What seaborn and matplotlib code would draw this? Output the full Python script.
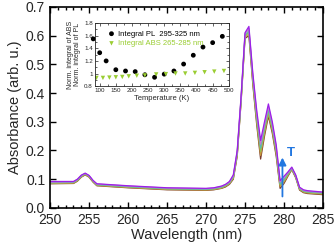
import pandas as pd
import matplotlib
matplotlib.use("Agg")
import matplotlib.pyplot as plt
from matplotlib.ticker import MultipleLocator
import seaborn as sns

# wavelength grid (nm)
wl = [250, 253, 253.5, 254, 254.5, 255, 255.5, 256, 260, 265, 270, 271, 272, 272.5,
      273, 273.5, 274, 274.5, 275, 275.5, 276, 276.5, 277, 277.5, 278, 278.5, 279,
      279.5, 280, 280.5, 281, 281.5, 282, 282.5, 283, 285]

# absorbance spectra, low T -> high T
abs_c1 = [.084, .085, .093, .107, .115, .107, .090, .077, .070, .063, .061, .063, .068, .073,
          .082, .100, .180, .370, .590, .600, .430, .290, .170, .250, .320, .260, .180,
          .068, .085, .110, .133, .105, .062, .053, .050, .046]
abs_c2 = [.085, .086, .094, .108, .116, .108, .091, .078, .071, .064, .062, .064, .069, .075,
          .084, .103, .184, .374, .594, .606, .438, .300, .183, .260, .328, .268, .188,
          .074, .090, .113, .135, .107, .064, .055, .052, .048]
abs_c3 = [.087, .088, .096, .110, .118, .110, .093, .080, .073, .066, .064, .066, .071, .077,
          .086, .106, .188, .378, .598, .612, .446, .310, .196, .270, .336, .276, .196,
          .080, .095, .116, .136, .109, .066, .057, .054, .050]
abs_c4 = [.088, .089, .097, .111, .119, .111, .094, .081, .074, .067, .065, .067, .073, .079,
          .088, .109, .192, .382, .602, .618, .454, .320, .209, .280, .344, .284, .204,
          .085, .100, .119, .138, .111, .068, .059, .056, .052]
abs_c5 = [.090, .091, .099, .113, .120, .112, .095, .083, .076, .069, .067, .069, .075, .081,
          .090, .112, .196, .386, .606, .625, .462, .330, .222, .290, .353, .292, .212,
          .090, .105, .122, .140, .113, .070, .061, .058, .054]
abs_c6 = [.092, .092, .100, .114, .121, .113, .096, .084, .077, .070, .068, .070, .076, .082,
          .092, .115, .200, .390, .610, .632, .470, .340, .235, .300, .362, .300, .220,
          .095, .110, .125, .142, .115, .072, .063, .060, .055]
curve_colors = ["#7a3b2e", "#c89a3c", "#8fbf5a", "#5ab8b0", "#c87ad0", "#9b1fe8"]

# inset data
T_pl = [80, 100, 120, 150, 180, 210, 240, 270, 300, 330, 360, 390, 420, 450, 480]
pl = [1.55, 1.33, 1.20, 1.06, 1.04, 1.03, 0.98, 0.94, 0.99, 1.04, 1.15, 1.29, 1.42, 1.49, 1.59]
T_abs = [90, 110, 130, 150, 170, 190, 215, 240, 275, 305, 335, 365, 395, 425, 455, 485]
absint = [0.93, 0.93, 0.935, 0.94, 0.945, 0.955, 0.965, 0.97, 0.985, 0.99, 1.0, 1.0,
          1.01, 1.02, 1.03, 1.04]

rows = []
for i, c in enumerate([abs_c1, abs_c2, abs_c3, abs_c4, abs_c5, abs_c6]):
    for w, a in zip(wl, c):
        rows.append({"wl": w, "A": a, "curve": i})
df = pd.DataFrame(rows)

sns.set_style("ticks")
plt.rcParams["font.family"] = ["Liberation Sans", "DejaVu Sans"]

fig = plt.figure(figsize=(3.34, 2.46), dpi=100)
ax = fig.add_axes([0.150, 0.155, 0.817, 0.817])
sns.lineplot(data=df, x="wl", y="A", hue="curve", palette=curve_colors,
             linewidth=0.9, legend=False, ax=ax)
ax.set_xlim(250, 285)
ax.set_ylim(0, 0.7)
ax.xaxis.set_major_locator(MultipleLocator(5))
ax.xaxis.set_minor_locator(MultipleLocator(1))
ax.tick_params(which="both", direction="in", top=True, right=True, labelsize=10,
               width=1, color="black")
ax.tick_params(which="major", length=4)
ax.tick_params(which="minor", length=2, left=False, right=False)
ax.set_yticks([0.0, 0.1, 0.2, 0.3, 0.4, 0.5, 0.6, 0.7])
ax.set_yticklabels(["0.0", "0.1", "0.2", "0.3", "0.4", "0.5", "0.6", "0.7"])
ax.set_xlabel("Wavelength (nm)", fontsize=10.5, labelpad=1)
ax.set_ylabel("Absorbance (arb. u.)", fontsize=10.5, labelpad=3)
for s in ax.spines.values():
    s.set_linewidth(1.2)
    s.set_color("black")

# temperature arrow
ax.annotate("", xy=(279.8, 0.185), xytext=(279.8, 0.03),
            arrowprops=dict(arrowstyle="-|>", color="#2277e0", lw=1.3, mutation_scale=11))
ax.text(280.9, 0.19, "T", color="#2277e0", fontsize=9.5, fontweight="bold",
        ha="center", va="center")

# inset
ins = fig.add_axes([0.284, 0.650, 0.401, 0.256])
sns.scatterplot(x=T_pl, y=pl, ax=ins, color="black", marker="o", s=12,
                edgecolor="none", label="Integral PL  295-325 nm", clip_on=False)
sns.scatterplot(x=T_abs, y=absint, ax=ins, color="#9acd32", marker="v", s=10,
                edgecolor="none", label="Integral ABS 265-285 nm")
ins.set_xlim(85, 500)
ins.set_ylim(0.8, 1.8)
ins.set_xticks([100, 150, 200, 250, 300, 350, 400, 450, 500])
ins.xaxis.set_minor_locator(MultipleLocator(25))
ins.set_yticks([0.8, 1.0, 1.2, 1.4, 1.6, 1.8])
ins.set_yticklabels(["0.8", "1", "1.2", "1.4", "1.6", "1.8"])
ins.yaxis.set_minor_locator(MultipleLocator(0.1))
ins.tick_params(which="both", direction="in", top=True, right=True, labelsize=4.5,
                width=0.5, pad=1.5)
ins.tick_params(which="major", length=2.5)
ins.tick_params(which="minor", length=1.5)
ins.set_xlabel("Temperature (K)", fontsize=5.5, labelpad=1)
ins.set_ylabel("Norm. integral of ABS\nNorm. integral of PL", fontsize=5, labelpad=2,
               linespacing=1.0)
for s in ins.spines.values():
    s.set_linewidth(0.6)
leg = ins.legend(loc="upper left", fontsize=5.5, frameon=False, handletextpad=0.3,
                 borderaxespad=0.3, labelspacing=0.3, handlelength=1.2,
                 bbox_to_anchor=(0.05, 0.97))
for t, c in zip(leg.get_texts(), ["black", "#9acd32"]):
    t.set_color(c)

fig.savefig("out.png", dpi=100)
